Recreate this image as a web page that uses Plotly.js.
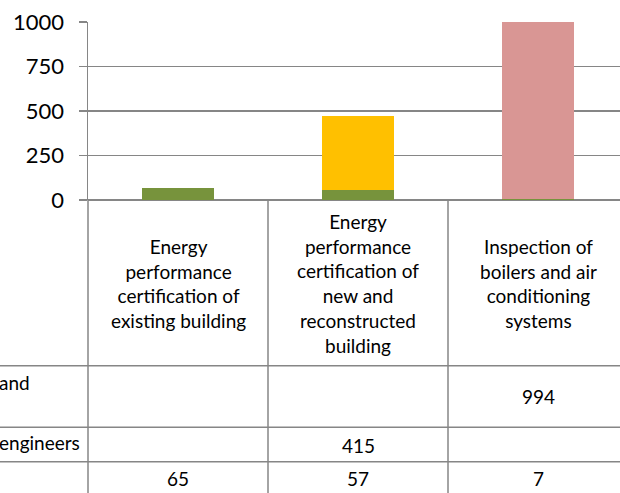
<!DOCTYPE html>
<html>
<head>
<meta charset="utf-8">
<script src="https://cdn.plot.ly/plotly-3.0.1.min.js"></script>
<style>
  html, body { margin: 0; padding: 0; background: #ffffff; }
  #chart { width: 620px; height: 493px; }
</style>
</head>
<body>
<div id="chart"></div>
<script>
// Categories (wrapped as they appear in the table header cells)
const categories = [
  "Energy<br>performance<br>certification of<br>existing building",
  "Energy<br>performance<br>certification of<br>new and<br>reconstructed<br>building",
  "Inspection of<br>boilers and air<br>conditioning<br>systems"
];
// Series, in table-row order (top row first)
const rowLabels = ["and", "engineers", ""];
const seriesTop = [null, null, 994];
const seriesMid = [null, 415, null];
const seriesBase = [65, 57, 7];
const yTicks = [0, 250, 500, 750, 1000];

// ---- geometry ----
const W = 620, H = 493;
const M = { l: 88, r: 0, t: 22, b: 293 };
const plotW = W - M.l - M.r;          // 532
const plotH = H - M.t - M.b;          // 178
const colPx = 180;                    // width of one category column
const yBottomPx = M.t + plotH;        // pixel row of the value 0
const py = px => (yBottomPx - px) / plotH;   // pixel row -> paper y
const pxX = px => (px - M.l) / plotW;         // pixel column -> paper x

const GRID = "#868686";
const FONT = "Lato, 'Open Sans', sans-serif";
const xs = categories.map((_, i) => i);

const bar = (y, color, name) => ({
  type: "bar", x: xs, y: y, name: name,
  marker: { color: color, line: { width: 0 } },
  hoverinfo: "skip"
});

const traces = [
  bar(seriesBase, "#77933C", "base"),
  bar(seriesMid, "#FFC000", rowLabels[1]),
  bar(seriesTop, "#D99694", rowLabels[0])
];

// ---- data table: grid lines ----
const shapes = [];
const line = (o) => Object.assign({ type: "line", line: { color: GRID, width: 1.5 }, layer: "above" }, o);
// left border of the table, continuing the value axis
shapes.push(line({ xref: "paper", yref: "paper", x0: 0, x1: 0, y0: 0, y1: py(H + 5) }));
// column separators between categories
[0.5, 1.5].forEach(v => shapes.push(line({ xref: "x", yref: "paper", x0: v, x1: v, y0: 0, y1: py(H + 5) })));
// row separators
[365.7, 427.3, 461.7].forEach(p => shapes.push(line({ xref: "paper", yref: "paper", x0: pxX(-5), x1: 1, y0: py(p), y1: py(p) })));

// ---- data table: text ----
const annotations = [];
const txt = (o) => Object.assign({ showarrow: false, font: { family: FONT, size: 19, color: "#000000" } }, o);
categories.forEach((c, i) => annotations.push(txt({ xref: "x", yref: "paper", x: i, y: py(283), text: c, yanchor: "middle", xanchor: "center" })));

const rows = [seriesTop, seriesMid, seriesBase];
const rowCentres = [396.7, 445, 478.5];
rows.forEach((vals, r) => {
  vals.forEach((v, i) => {
    if (v === null) return;
    annotations.push(txt({ xref: "x", yref: "paper", x: i, y: py(rowCentres[r]), text: String(v), yanchor: "middle", xanchor: "center" }));
  });
});
// row labels (their left part runs past the page edge)
const labelRows = [382.7, 443];
rowLabels.forEach((lab, r) => {
  if (!lab) return;
  annotations.push(txt({ xref: "paper", yref: "paper", x: pxX(-3), y: py(labelRows[r]), text: lab, yanchor: "middle", xanchor: "left" }));
});

const layout = {
  width: W, height: H,
  margin: M,
  paper_bgcolor: "#ffffff", plot_bgcolor: "#ffffff",
  barmode: "stack", bargap: 0.6,
  showlegend: false, hovermode: false,
  font: { family: FONT, color: "#000000" },
  xaxis: {
    type: "linear", range: [-0.5, -0.5 + plotW / colPx],
    showgrid: false, zeroline: false, showticklabels: false, ticks: "",
    showline: false, fixedrange: true
  },
  yaxis: {
    range: [0, 1000], tickvals: yTicks, ticktext: yTicks.map(String),
    ticks: "outside", ticklen: 8, tickwidth: 1.5, tickcolor: GRID,
    showgrid: true, gridcolor: GRID, gridwidth: 1.5,
    zeroline: true, zerolinecolor: GRID, zerolinewidth: 1.5,
    showline: true, linecolor: GRID, linewidth: 1.5,
    tickfont: { family: FONT, size: 22, color: "#000000" },
    ticklabelstandoff: 10, fixedrange: true
  },
  shapes: shapes,
  annotations: annotations
};

Plotly.newPlot("chart", traces, layout, { staticPlot: true, displayModeBar: false });
</script>
</body>
</html>
